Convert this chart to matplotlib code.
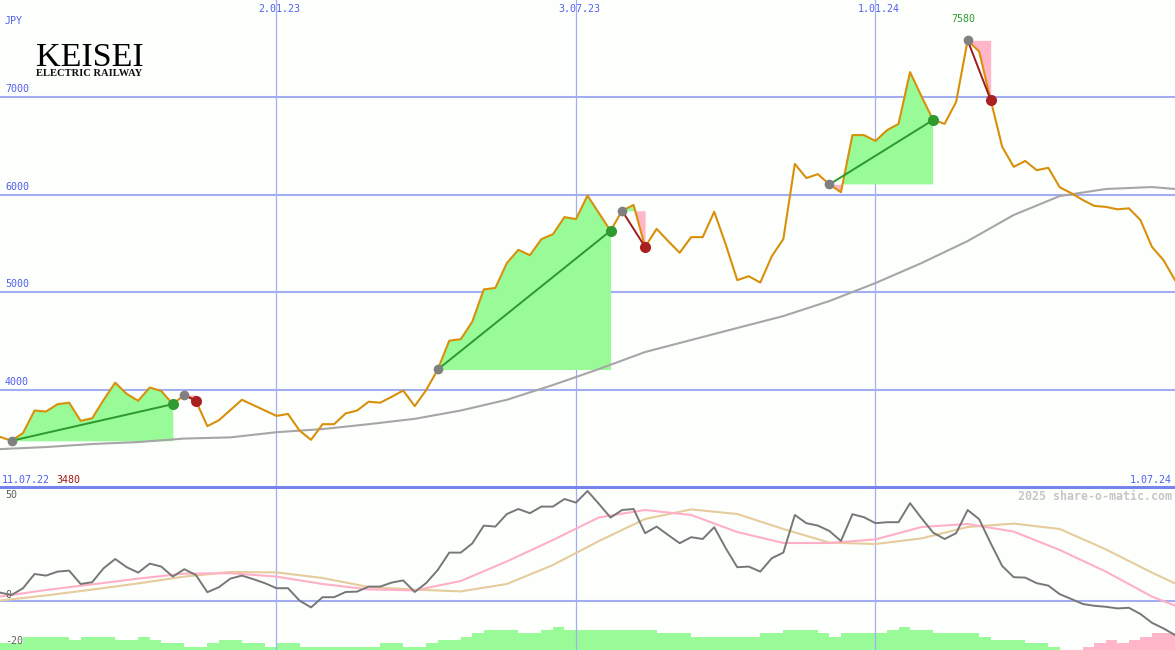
from __future__ import annotations

import matplotlib

matplotlib.use("Agg")
import matplotlib.pyplot as plt
import numpy as np


# weekly closes in JPY, first week 11.07.22, last week 1.07.24
PRICES = [
    3520, 3480, 3560, 3790, 3780, 3855, 3870, 3685, 3710, 3900,
    4075, 3960, 3890, 4025, 3990, 3855, 3950, 3890, 3630, 3690,
    3795, 3900, 3845, 3790, 3735, 3755, 3585, 3490, 3650, 3650,
    3760, 3790, 3880, 3870, 3930, 3995, 3835, 4000, 4210, 4505,
    4520, 4700, 5030, 5045, 5300, 5435, 5380, 5545, 5595, 5770,
    5750, 5990, 5810, 5630, 5835, 5895, 5465, 5650, 5525, 5405,
    5565, 5565, 5825, 5490, 5125, 5165, 5100, 5370, 5545, 6315,
    6170, 6210, 6105, 6025, 6610, 6610, 6550, 6660, 6725, 7255,
    7005, 6765, 6725, 6950, 7580, 7465, 6970, 6490, 6285, 6345,
    6250, 6275, 6075, 6015, 5945, 5885, 5875, 5850, 5860, 5740,
    5465, 5330, 5125,
]

# long moving average, read every 4 weeks
MA_WEEKS = [0, 4, 8, 12, 16, 20, 24, 28, 32, 36, 40, 44, 48, 52, 56, 60, 64, 68, 72, 76, 80, 84, 88, 92, 96, 100, 102]
MA_VALUES = [3395, 3416, 3447, 3467, 3503, 3515, 3568, 3600, 3650, 3705, 3790, 3900, 4051, 4215, 4389, 4512, 4635,
             4757, 4911, 5095, 5300, 5525, 5792, 5986, 6058, 6078, 6058]

# oscillator (lower panel), one value per week
OSC_VALUES = [
    4.2, 3.0, 6.4, 13.5, 12.7, 14.7, 15.2, 8.5, 9.4, 16.4,
    21.0, 16.9, 14.2, 18.7, 17.2, 12.2, 15.9, 13.0, 4.4, 6.9,
    11.2, 12.7, 10.9, 8.9, 6.4, 6.4, 0.2, -3.2, 1.9, 1.9,
    4.5, 4.7, 7.2, 7.2, 9.2, 10.3, 4.5, 9.0, 15.5, 24.2,
    24.2, 28.8, 37.7, 37.2, 43.5, 46.0, 43.9, 47.2, 47.2, 51.0,
    49.2, 55.0, 48.5, 41.7, 45.5, 46.0, 33.9, 37.2, 33.0, 28.9,
    31.9, 31.0, 36.9, 26.4, 16.9, 17.2, 14.7, 21.4, 24.2, 43.0,
    38.9, 37.7, 35.0, 30.0, 43.4, 41.9, 38.9, 39.4, 39.4, 48.9,
    41.4, 34.2, 31.0, 33.9, 45.5, 40.9, 28.9, 17.5, 11.9, 11.7,
    8.9, 7.7, 3.4, 1.0, -1.5, -2.4, -2.9, -3.7, -3.4, -6.5,
    -10.9, -13.7, -17.0,
]

# two signal lines, read every 4 weeks
SIG_WEEKS = MA_WEEKS
SIG_FAST = [2.2, 5.5, 8.3, 11.2, 13.7, 13.9, 12.2, 8.5, 5.8, 5.3, 10.0, 19.8, 30.5, 41.8, 45.5, 43.0, 34.5,
            29.0, 29.0, 30.8, 37.0, 38.5, 34.7, 25.5, 14.7, 2.2, -2.3]
SIG_SLOW = [0.2, 2.8, 5.7, 8.8, 12.2, 14.5, 14.3, 11.5, 7.0, 5.7, 4.8, 8.5, 18.0, 30.0, 41.0, 45.8, 43.5,
            36.0, 29.2, 28.5, 31.3, 37.0, 38.7, 36.0, 25.8, 14.2, 8.8]

# histogram steps at the bottom (negative = pink)
HIST_VALUES = [
    2, 2, 4, 4, 4, 4, 3, 4, 4, 4, 3, 3, 4, 3, 2, 2, 1, 1, 2, 3,
    3, 2, 2, 1, 2, 2, 1, 1, 1, 1, 1, 1, 1, 2, 2, 1, 1, 2, 3, 3,
    4, 5, 6, 6, 6, 5, 5, 6, 7, 6, 6, 6, 6, 6, 6, 6, 6, 5, 5, 5,
    4, 4, 4, 4, 4, 4, 5, 5, 6, 6, 6, 5, 4, 5, 5, 5, 5, 6, 7, 6,
    6, 5, 5, 5, 5, 4, 3, 3, 3, 2, 2, 1, 0, 0, -1, -2, -3, -2, -3, -4,
    -5, -5,
]

# trades: (entry week, exit week)
LONG_TRADES = [(1, 15), (38, 53), (72, 81)]
SHORT_TRADES = [(16, 17), (54, 56), (84, 86)]

DATE_WEEKS = [24, 50, 76]
DATE_LABELS = ["2.01.23", "3.07.23", "1.01.24"]
PRICE_LEVELS = [4000, 5000, 6000, 7000]
OSC_LEVELS = [50, 0, -20]

BG = "#fdfffd"
GRID = "#a3aef2"
SEP = "#7684ec"
BLUE_TXT = "#4f5ff2"
ORANGE = "#d8900a"
MA_GRAY = "#a6a6a6"
FILL_GREEN = "#98fb98"
FILL_PINK = "#ffb6c8"
MONO = "DejaVu Sans Mono"

W, H = 1175, 650
SPLIT = 487  # pixel row between the panels


def draw_price_panel(ax: plt.Axes) -> None:
    weeks = np.arange(len(PRICES))
    prices = np.array(PRICES, dtype=float)
    ax.set_xlim(0, 102)
    ax.set_ylim(3007, 7993)
    ax.axis("off")

    for lvl in PRICE_LEVELS:
        ax.axhline(lvl, color=GRID, lw=1.5, zorder=1)
        ax.annotate(f"{lvl}", xy=(0, lvl), xytext=(5, 3), textcoords="offset pixels",
                    ha="left", va="bottom", fontsize=7.2, family=MONO, color=BLUE_TXT)
    for wk, lbl in zip(DATE_WEEKS, DATE_LABELS):
        ax.axvline(wk, color=GRID, lw=0.9, zorder=1)
        ax.annotate(lbl, xy=(wk, 7993), xytext=(3, -9), textcoords="offset pixels",
                    ha="center", va="center", fontsize=7.2, family=MONO, color=BLUE_TXT)

    # trade areas: green above entry price, pink below
    for start, end in LONG_TRADES + SHORT_TRADES:
        xs = weeks[start:end + 1]
        ys = prices[start:end + 1]
        base = prices[start]
        ax.fill_between(xs, ys, base, where=ys >= base, interpolate=True, color=FILL_GREEN, lw=0, zorder=2)
        ax.fill_between(xs, ys, base, where=ys < base, interpolate=True, color=FILL_PINK, lw=0, zorder=2)

    ax.plot(MA_WEEKS, MA_VALUES, color=MA_GRAY, lw=1.5, zorder=3)
    ax.plot(weeks, prices, color=ORANGE, lw=1.5, zorder=4)

    for start, end in LONG_TRADES:
        ax.plot([start, end], [prices[start], prices[end]], color="#2b9a2b", lw=1.4, zorder=5)
        ax.plot(start, prices[start], "o", color="#808080", ms=7, mew=0, zorder=6)
        ax.plot(end, prices[end], "o", color="#2f9a2f", ms=8, mew=0, zorder=6)
    for start, end in SHORT_TRADES:
        ax.plot([start, end], [prices[start], prices[end]], color="#9c1c1c", lw=1.4, zorder=5)
        ax.plot(start, prices[start], "o", color="#808080", ms=7, mew=0, zorder=6)
        ax.plot(end, prices[end], "o", color="#a82020", ms=8, mew=0, zorder=6)

    hi = int(np.argmax(prices))
    ax.annotate(f"{PRICES[hi]}", xy=(hi, prices[hi]), xytext=(-4, 21), textcoords="offset pixels",
                ha="center", va="center", fontsize=7.2, family=MONO, color="#2f9a2f")

    ax.text(5 / W, 1 - 21 / SPLIT, "JPY", transform=ax.transAxes, ha="left", va="center",
            fontsize=7.2, family=MONO, color=BLUE_TXT)
    ax.text(36 / W, 1 - 66.5 / SPLIT, "KEISEI", transform=ax.transAxes, ha="left", va="baseline",
            fontsize=24.5, family="Liberation Serif", color="black")
    ax.text(36 / W, 1 - 76 / SPLIT, "ELECTRIC RAILWAY", transform=ax.transAxes, ha="left", va="baseline",
            fontsize=7.6, fontweight="bold", family="Liberation Serif", color="#111111")

    ax.annotate("11.07.22", xy=(0, 0), xycoords="axes fraction", xytext=(2, 4), textcoords="offset pixels",
                ha="left", va="baseline", fontsize=7.2, family=MONO, color=BLUE_TXT)
    ax.annotate(f"{min(PRICES)}", xy=(0, 0), xycoords="axes fraction", xytext=(56, 4), textcoords="offset pixels",
                ha="left", va="baseline", fontsize=7.2, family=MONO, color="#a01818")
    ax.annotate("1.07.24", xy=(1, 0), xycoords="axes fraction", xytext=(-3, 4), textcoords="offset pixels",
                ha="right", va="baseline", fontsize=7.2, family=MONO, color=BLUE_TXT)


def draw_osc_panel(ax: plt.Axes) -> None:
    weeks = np.arange(len(OSC_VALUES))
    ax.set_xlim(0, 102)
    ax.set_ylim(-24.5, 57)
    ax.axis("off")

    for wk in DATE_WEEKS:
        ax.axvline(wk, color=GRID, lw=0.9, zorder=1)
    ax.axhline(0, color=GRID, lw=1.5, zorder=1)
    ax.axhline(57, color=SEP, lw=2.2, zorder=7, clip_on=False)

    bars = ax.twinx()
    bars.set_ylim(0, 49)
    bars.axis("off")
    hist = np.array(HIST_VALUES, dtype=float)
    colors = [FILL_GREEN if v >= 0 else FILL_PINK for v in hist]
    bars.bar(np.arange(len(hist)), np.abs(hist), width=1.0, align="edge", color=colors, lw=0, zorder=1)

    ax.set_zorder(bars.get_zorder() + 1)
    ax.patch.set_visible(False)
    ax.plot(SIG_WEEKS, SIG_SLOW, color="#e6cc9c", lw=1.5, zorder=3)
    ax.plot(SIG_WEEKS, SIG_FAST, color="#ffb0c6", lw=1.5, zorder=3)
    ax.plot(weeks, OSC_VALUES, color="#777777", lw=1.4, zorder=4)

    offsets = {50: (5, 6), 0: (5, 6), -20: (5, 0)}
    for lvl in OSC_LEVELS:
        ax.annotate(f"{lvl}", xy=(0, lvl), xytext=offsets[lvl], textcoords="offset pixels",
                    ha="left", va="center", fontsize=7.2, family=MONO, color="#606060")

    ax.text(1 - 3 / W, 1 - 9 / (H - SPLIT), "2025 share-o-matic.com", transform=ax.transAxes,
            ha="right", va="center", fontsize=8.4, fontweight="bold", family=MONO, color="#c6c6c6")


def main() -> int:
    fig = plt.figure(figsize=(W / 100, H / 100), dpi=100)
    fig.patch.set_facecolor(BG)
    split = 1 - SPLIT / H
    price_ax = fig.add_axes([0, split, 1, 1 - split])
    osc_ax = fig.add_axes([0, 0, 1, split])
    draw_price_panel(price_ax)
    draw_osc_panel(osc_ax)
    fig.savefig("out.png", dpi=100, facecolor=BG)
    plt.close(fig)
    return 0


if __name__ == "__main__":
    raise SystemExit(main())
